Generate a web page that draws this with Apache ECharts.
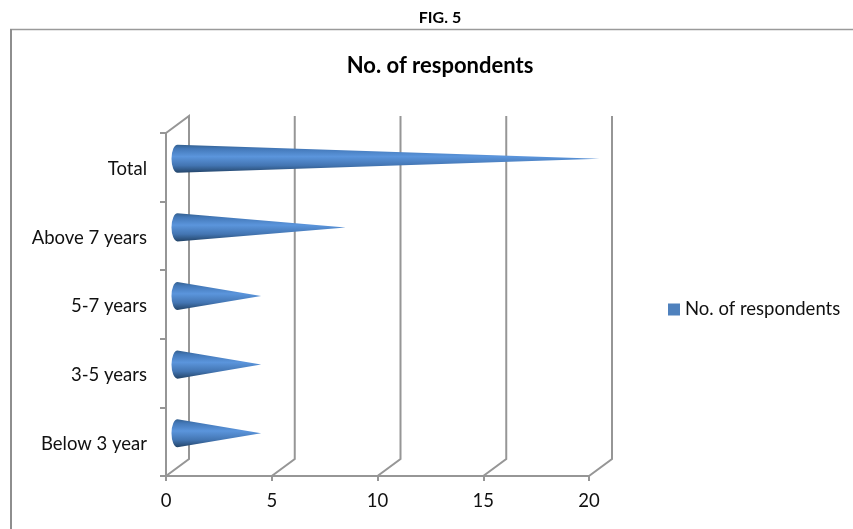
<!DOCTYPE html>
<html>
<head>
<meta charset="utf-8">
<title>FIG. 5</title>
<script src="https://cdn.jsdelivr.net/npm/echarts@6/dist/echarts.min.js"></script>
<style>
html, body { margin: 0; padding: 0; background: #fff; }
#main { width: 853px; height: 529px; }
</style>
</head>
<body>
<div id="main"></div>
<script>
var categories = ['Below 3 year', '3-5 years', '5-7 years', 'Above 7 years', 'Total'];
var respondents = [4, 4, 4, 8, 20];
var xTicks = [0, 5, 10, 15, 20];

var fontName = 'Lato';
var axisColor = '#969696';
var labelSize = 18.5;
// 3D偏移量: 后墙相对前面的位置
var depthX = 23;
var depthY = -17;

var myChart = echarts.init(document.getElementById('main'));

function renderWall(params, api) {
    var v = api.value(0);
    var grid = params.coordSys;
    var bottom = grid.y + grid.height;
    var x = api.coord([v, 0])[0];
    var points = [
        [x, bottom],
        [x + depthX, bottom + depthY],
        [x + depthX, grid.y + depthY]
    ];
    if (v === 0) {
        points.push([x, grid.y]);
    }
    return {
        type: 'polyline',
        shape: { points: points },
        style: { stroke: axisColor, lineWidth: 2, fill: null }
    };
}

function renderCone(params, api) {
    var end = api.coord([api.value(0), api.value(1)]);
    var start = api.coord([0, api.value(1)]);
    var halfH = api.size([0, 1])[1] * 0.205;
    var rx = 6;
    var cy = end[1] + depthY / 2;
    var bx = start[0] + depthX / 2;
    var tip = end[0] + depthX / 2 - 1;
    var path = 'M' + bx + ' ' + (cy - halfH) +
        'L' + tip + ' ' + cy +
        'L' + bx + ' ' + (cy + halfH) +
        'A' + rx + ' ' + halfH + ' 0 0 1 ' + bx + ' ' + (cy - halfH) + 'Z';
    return {
        type: 'path',
        shape: {
            pathData: path,
            x: bx - rx,
            y: cy - halfH,
            width: tip - bx + rx,
            height: halfH * 2
        },
        style: {
            fill: new echarts.graphic.LinearGradient(0, 0, 0, 1, [
                { offset: 0, color: '#34608f' },
                { offset: 0.14, color: '#4378b8' },
                { offset: 0.42, color: '#5b95dc' },
                { offset: 0.74, color: '#4375b2' },
                { offset: 1, color: '#234468' }
            ])
        }
    };
}

var option = {
    backgroundColor: '#fff',
    animation: false,
    textStyle: { fontFamily: fontName },
    title: {
        text: 'No. of respondents',
        left: 435,
        top: 50,
        textAlign: 'center',
        textStyle: { fontFamily: fontName, fontSize: 22, fontWeight: 'bold', color: '#000' }
    },
    legend: {
        data: ['No. of respondents'],
        left: 668,
        top: 300,
        padding: 0,
        icon: 'rect',
        itemWidth: 12,
        itemHeight: 12,
        itemGap: 0,
        textStyle: { fontFamily: fontName, fontSize: labelSize, color: '#111' }
    },
    grid: { left: 166, right: 264, top: 133, bottom: 53, containLabel: false },
    xAxis: {
        type: 'value',
        min: 0,
        max: 20,
        interval: 5,
        splitLine: { show: false },
        axisLine: { show: true, lineStyle: { color: axisColor, width: 2 } },
        axisTick: { show: true, length: 5, lineStyle: { color: axisColor, width: 2 } },
        axisLabel: {
            margin: 16,
            fontFamily: fontName,
            fontSize: labelSize,
            color: '#111',
            customValues: xTicks
        }
    },
    yAxis: {
        type: 'category',
        data: categories,
        axisLine: { show: true, lineStyle: { color: axisColor, width: 2 } },
        axisTick: { show: true, length: 6, alignWithLabel: false, lineStyle: { color: axisColor, width: 2 } },
        axisLabel: {
            margin: 19,
            formatter: '{a|{value}}',
            rich: {
                a: { fontFamily: fontName, fontSize: labelSize, color: '#111', padding: [4, 0, 0, 0] }
            }
        }
    },
    series: [
        {
            name: 'walls',
            type: 'custom',
            silent: true,
            z: 1,
            renderItem: renderWall,
            encode: { x: 0 },
            data: xTicks.map(function (v) { return [v]; })
        },
        {
            name: 'No. of respondents',
            type: 'custom',
            z: 3,
            itemStyle: { color: '#4f81bd' },
            renderItem: renderCone,
            encode: { x: 0, y: 1 },
            data: respondents.map(function (v, i) { return [v, i]; })
        }
    ],
    graphic: [
        {
            type: 'text',
            x: 440,
            y: 10,
            style: { text: 'FIG. 5', fontFamily: fontName, fontSize: 16, fontWeight: 'bold', fill: '#000', align: 'center' }
        },
        { type: 'line', shape: { x1: 10, y1: 29.5, x2: 853, y2: 29.5 }, style: { stroke: '#9a9a9a', lineWidth: 1.5 } },
        { type: 'line', shape: { x1: 11, y1: 29, x2: 11, y2: 529 }, style: { stroke: '#8e8e8e', lineWidth: 2 } }
    ]
};

myChart.setOption(option);
</script>
</body>
</html>
